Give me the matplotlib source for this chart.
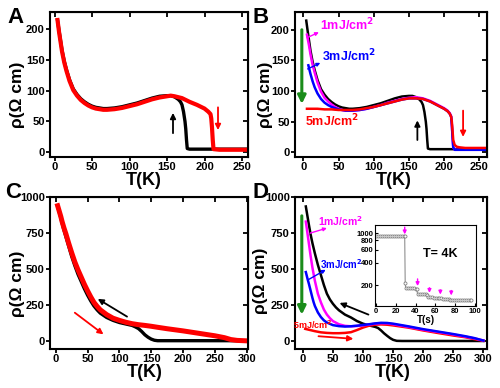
import matplotlib
matplotlib.use("Agg")
import matplotlib.pyplot as plt
import numpy as np

plt.rcParams['font.family'] = ['Liberation Sans', 'DejaVu Sans']
plt.rcParams['font.weight'] = 'bold'
plt.rcParams['axes.labelweight'] = 'bold'
plt.rcParams['mathtext.default'] = 'bf'

# ---------------- Panel A / B data ----------------
A_black_T = [4, 6, 8, 10, 13, 16, 20, 25, 30, 35, 40, 45, 50, 55, 60, 65, 70, 80, 90, 100,
             110, 120, 130, 140, 150, 155, 160, 165, 168, 170, 172, 174, 175, 176, 177, 180, 200, 220, 258]
A_black_R = [215, 198, 182, 166, 148, 134, 118, 103, 94, 87, 82, 78, 75, 73, 72, 71, 71, 72, 74, 77,
             80, 84, 88, 91, 92, 92, 90, 86, 82, 77, 66, 50, 38, 20, 6, 5, 5, 5, 5]
A_red_T = [4, 6, 8, 10, 13, 16, 20, 25, 30, 35, 40, 45, 50, 55, 60, 65, 70, 80, 90, 100,
           110, 120, 130, 140, 150, 155, 160, 170, 180, 190, 200, 205, 208, 209, 210, 211, 212, 220, 240, 258]
A_red_R = [215, 196, 180, 164, 146, 132, 116, 101, 92, 85, 80, 76, 73, 71, 70, 69, 69, 70, 72, 75,
           78, 82, 86, 89, 91, 92, 91, 88, 82, 77, 71, 66, 62, 55, 40, 20, 5, 4, 4, 4]

B_mag_T = [5, 8, 10, 13, 16, 20, 25, 30, 35, 40, 45, 50, 55, 60, 70, 80, 90, 100, 110, 120,
           130, 140, 150, 160, 170, 180, 190, 200, 205, 208, 210, 211, 212, 213, 215, 260]
B_mag_R = [192, 174, 160, 143, 130, 114, 99, 89, 83, 78, 74, 71, 69, 68, 68, 69, 71, 74, 77, 81,
           84, 87, 89, 90, 88, 84, 78, 72, 68, 64, 59, 45, 25, 8, 4, 4]
B_blue_T = [7, 10, 13, 16, 20, 25, 30, 35, 40, 45, 50, 55, 60, 70, 80, 90, 100, 110, 120,
            130, 140, 150, 160, 170, 180, 190, 200, 205, 208, 210, 211, 212, 213, 215, 260]
B_blue_R = [142, 128, 116, 106, 96, 87, 81, 77, 74, 72, 70, 69, 68, 68, 69, 71, 74, 77, 80,
            83, 86, 88, 88, 87, 83, 77, 71, 67, 63, 58, 45, 25, 8, 4, 4]
B_red_T = [5, 10, 20, 30, 40, 50, 60, 70, 80, 90, 100, 110, 120, 130, 140, 150, 160, 170, 180,
           190, 200, 205, 208, 210, 211, 212, 213, 215, 218, 222, 230, 260]
B_red_R = [71, 71, 71, 70, 70, 69, 69, 69, 70, 72, 74, 77, 80, 83, 86, 88, 88, 87, 83,
           77, 71, 67, 63, 58, 50, 35, 20, 12, 9, 8, 7, 7]

# ---------------- Panel C data ----------------
C_red_T = [3, 5, 8, 10, 13, 16, 20, 25, 30, 35, 40, 45, 50, 55, 60, 65, 70, 80, 90, 100, 110, 120,
           130, 140, 150, 160, 175, 200, 225, 250, 265, 275, 285, 300]
C_red_R = [940, 910, 865, 830, 785, 745, 685, 615, 550, 495, 445, 395, 350, 308, 270, 242, 218, 185,
           160, 145, 132, 122, 115, 110, 104, 97, 87, 72, 55, 38, 25, 12, 6, 3]
C_black_T = [3, 5, 8, 10, 13, 16, 20, 25, 30, 35, 40, 45, 50, 55, 60, 65, 70, 80, 90, 100, 110, 120,
             125, 130, 135, 140, 145, 150, 155, 160, 200, 270, 300]
C_black_R = [935, 905, 855, 820, 770, 725, 665, 590, 525, 465, 415, 365, 320, 280, 245, 218, 195, 165,
             145, 130, 120, 110, 100, 88, 68, 45, 28, 15, 7, 4, 4, 4, 3]

# ---------------- Panel D data ----------------
D_black_T = [5, 8, 10, 13, 16, 20, 25, 30, 35, 40, 45, 50, 55, 60, 70, 80, 90, 100, 110, 120,
             125, 130, 135, 140, 145, 150, 156, 165, 300]
D_black_R = [935, 860, 810, 740, 680, 610, 530, 460, 390, 330, 290, 260, 235, 215, 185, 165, 140, 122, 110, 100,
             92, 75, 55, 38, 22, 10, 3, 2, 2]
D_mag_T = [5, 8, 10, 13, 16, 20, 25, 30, 35, 40, 45, 50, 60, 70, 80, 90, 100, 110, 120, 130, 140,
           150, 175, 200, 225, 250, 270, 285, 300]
D_mag_R = [830, 740, 680, 590, 510, 420, 330, 270, 220, 185, 160, 140, 118, 107, 104, 106, 110, 116, 122, 125, 124,
           118, 100, 80, 64, 47, 32, 20, 5]
D_blue_T = [5, 8, 10, 13, 16, 18, 20, 25, 30, 35, 40, 50, 60, 70, 80, 90, 100, 110, 120, 130, 140,
            150, 175, 200, 225, 250, 270, 285, 300]
D_blue_R = [480, 430, 400, 350, 300, 270, 245, 200, 168, 145, 130, 112, 105, 102, 104, 108, 113, 118, 124, 128, 127,
            122, 104, 84, 67, 50, 35, 22, 5]
D_red_T = [4, 10, 20, 30, 40, 50, 60, 70, 80, 90, 100, 110, 120, 130, 140, 150, 175, 200, 225, 250,
           270, 285, 300]
D_red_R = [86, 80, 70, 62, 58, 56, 56, 58, 63, 78, 95, 108, 115, 117, 115, 110, 95, 75, 57, 40,
           28, 15, 3]

# ---------------- Inset data ----------------
ins_t = [0, 2, 4, 6, 8, 10, 12, 14, 16, 18, 20, 22, 24, 26, 28, 29, 29.5, 30, 32, 34, 36, 38, 40, 41,
         42, 44, 46, 48, 50, 52, 53, 55, 57, 59, 61, 63, 64, 66, 68, 70, 72, 74, 75, 77, 79, 81, 83,
         85, 87, 89, 91, 93, 95, 96]
ins_R = [900, 900, 900, 900, 900, 900, 900, 900, 900, 900, 900, 900, 900, 900, 900, 900, 215, 182, 182, 181,
         181, 181, 180, 180, 153, 152, 152, 151, 151, 150, 139, 138, 138, 137, 137, 136, 133, 133, 132, 132,
         131, 131, 128, 128, 127, 127, 127, 126, 126, 126, 126, 126, 126, 126]
ins_arrow_t = [29, 42, 54, 65, 76]
ins_arrow_top = [1200, 243, 185, 173, 170]
ins_arrow_tip = [960, 195, 158, 150, 146]

RED = '#ff0000'
MAG = '#ff00ff'
BLUE = '#0000ff'
GREEN = '#1a8c1a'

fig = plt.figure(figsize=(5, 3.88), dpi=100)


def style(ax, xt, yt, xlim, ylim):
    ax.set_xlim(*xlim)
    ax.set_ylim(*ylim)
    ax.set_xticks(xt)
    ax.set_yticks(yt)
    for s in ax.spines.values():
        s.set_linewidth(1.5)
    ax.tick_params(direction='out', length=3, width=1.3, labelsize=8, pad=0.8)
    for lab in ax.get_xticklabels() + ax.get_yticklabels():
        lab.set_fontweight('bold')
    sx = ax.secondary_xaxis('top')
    sx.set_xticks(xt)
    sx.tick_params(direction='in', length=3.5, width=1.3, labeltop=False)
    sy = ax.secondary_yaxis('right')
    sy.set_yticks(yt)
    sy.tick_params(direction='in', length=3.5, width=1.3, labelright=False)
    ax.set_xlabel('T(K)', fontsize=13, fontweight='bold')
    ax.set_ylabel('ρ(Ω cm)', fontsize=12.5, fontweight='bold')


def arrow(ax, tail, tip, color, lw=1.3, ms=8):
    ax.annotate('', xy=tip, xytext=tail,
                arrowprops=dict(arrowstyle='-|>', color=color, lw=lw, mutation_scale=ms,
                                shrinkA=0, shrinkB=0))


# ---- A ----
axA = fig.add_axes([0.10, 0.595, 0.396, 0.374])
axA.plot(A_black_T, A_black_R, color='black', lw=2.4)
axA.plot(A_red_T, A_red_R, color=RED, lw=3.0)
style(axA, [0, 50, 100, 150, 200, 250], [0, 50, 100, 150, 200], (-6, 258), (-8, 228))
arrow(axA, (158, 31), (158, 64), 'black')
arrow(axA, (218, 73), (218, 36), RED)
axA.yaxis.set_label_coords(-0.128, 0.43)
axA.xaxis.set_label_coords(0.475, -0.105)

# ---- B ----
axB = fig.add_axes([0.59, 0.595, 0.384, 0.374])
axB.plot(A_black_T, A_black_R, color='black', lw=1.8)
axB.plot(B_mag_T, B_mag_R, color=MAG, lw=1.8)
axB.plot(B_blue_T, B_blue_R, color=BLUE, lw=1.8)
axB.plot(B_red_T, B_red_R, color=RED, lw=1.8)
style(axB, [0, 50, 100, 150, 200, 250], [0, 50, 100, 150, 200], (-12, 261), (-8, 229))
arrow(axB, (162, 20), (162, 52), 'black')
arrow(axB, (227, 68), (227, 25), RED)
arrow(axB, (-2.3, 200), (-2.3, 79), GREEN, lw=2.2, ms=12)
axB.annotate('', xy=(22, 196), xytext=(5, 187),
             arrowprops=dict(arrowstyle='-|>', color=MAG, lw=1.0, mutation_scale=5, shrinkA=0, shrinkB=0))
axB.annotate('', xy=(24, 146), xytext=(6, 136),
             arrowprops=dict(arrowstyle='-|>', color=BLUE, lw=1.0, mutation_scale=5, shrinkA=0, shrinkB=0))
axB.text(24, 207, '1mJ/cm$^2$', color=MAG, fontsize=9, fontweight='bold', va='center')
axB.text(26, 158, '3mJ/cm$^2$', color=BLUE, fontsize=9, fontweight='bold', va='center')
axB.text(2.4, 51, '5mJ/cm$^2$', color=RED, fontsize=9, fontweight='bold', va='center')
axB.yaxis.set_label_coords(-0.115, 0.43)
axB.xaxis.set_label_coords(0.516, -0.105)

# ---- C ----
axC = fig.add_axes([0.10, 0.100, 0.396, 0.392])
axC.plot(C_black_T, C_black_R, color='black', lw=2.4)
axC.plot(C_red_T, C_red_R, color=RED, lw=3.6)
style(axC, [0, 50, 100, 150, 200, 250, 300], [0, 250, 500, 750, 1000], (-9, 302), (-55, 1000))
arrow(axC, (112, 171), (66, 294), 'black')
arrow(axC, (30, 198), (75, 48), RED)
axC.yaxis.set_label_coords(-0.128, 0.43)
axC.xaxis.set_label_coords(0.48, -0.095)

# ---- D ----
axD = fig.add_axes([0.59, 0.100, 0.384, 0.392])
axD.plot(D_black_T, D_black_R, color='black', lw=1.8)
axD.plot(D_red_T, D_red_R, color=RED, lw=1.8)
axD.plot(D_mag_T, D_mag_R, color=MAG, lw=1.8)
axD.plot(D_blue_T, D_blue_R, color=BLUE, lw=1.8)
style(axD, [0, 50, 100, 150, 200, 250, 300], [0, 250, 500, 750, 1000], (-13, 306), (-55, 1000))
arrow(axD, (109, 185), (61, 266), 'black')
arrow(axD, (26, 35), (84, 17), RED)
arrow(axD, (-1.7, 870), (-1.7, 185), GREEN, lw=2.2, ms=12)
axD.annotate('', xy=(40, 785), xytext=(12, 750),
             arrowprops=dict(arrowstyle='-|>', color=MAG, lw=1.0, mutation_scale=5, shrinkA=0, shrinkB=0))
axD.annotate('', xy=(38, 496), xytext=(9, 427),
             arrowprops=dict(arrowstyle='-|>', color=BLUE, lw=1.0, mutation_scale=5, shrinkA=0, shrinkB=0))
axD.text(26, 837, '1mJ/cm$^2$', color=MAG, fontsize=7.5, fontweight='bold', va='center')
axD.text(28, 538, '3mJ/cm$^2$', color=BLUE, fontsize=7, fontweight='bold', va='center')
axD.text(-15.6, 115, '5mJ/cm$^2$', color=RED, fontsize=6.5, fontweight='bold', va='center', clip_on=False)
axD.yaxis.set_label_coords(-0.14, 0.45)
axD.xaxis.set_label_coords(0.51, -0.1)

# ---- inset ----
axI = fig.add_axes([0.75, 0.211, 0.202, 0.209])
axI.set_yscale('log')
axI.plot(ins_t, ins_R, color='#909090', lw=0.8, marker='o', ms=2.2, mfc='white', mec='#808080', mew=0.6)
axI.set_xlim(-1, 101)
axI.set_ylim(105, 1280)
axI.set_xticks([0, 20, 40, 60, 80, 100])
axI.set_yticks([200, 400, 600, 800, 1000])
axI.set_yticklabels(['200', '400', '600', '800', '1000'])
axI.yaxis.set_minor_locator(matplotlib.ticker.NullLocator())
axI.tick_params(direction='in', length=2, width=0.8, labelsize=5.5, pad=1)
for lab in axI.get_xticklabels() + axI.get_yticklabels():
    lab.set_fontweight('bold')
for s in axI.spines.values():
    s.set_linewidth(0.8)
axI.set_xlabel('T(s)', fontsize=7, fontweight='bold', labelpad=0)
axI.text(65, 520, 'T= 4K', fontsize=9, fontweight='bold', ha='center', va='center')
for t, a, b in zip(ins_arrow_t, ins_arrow_top, ins_arrow_tip):
    axI.annotate('', xy=(t, b), xytext=(t, a),
                 arrowprops=dict(arrowstyle='-|>', color=MAG, lw=1.0, mutation_scale=5, shrinkA=0, shrinkB=0))

# ---- panel letters ----
for lbl, x, y in [('A', 7, 7), ('B', 253, 7), ('C', 5, 182), ('D', 253, 182)]:
    fig.text(x / 500, 1 - y / 388, lbl, fontsize=16, fontweight='bold', va='top', ha='left')

fig.savefig('out.png', dpi=100)
